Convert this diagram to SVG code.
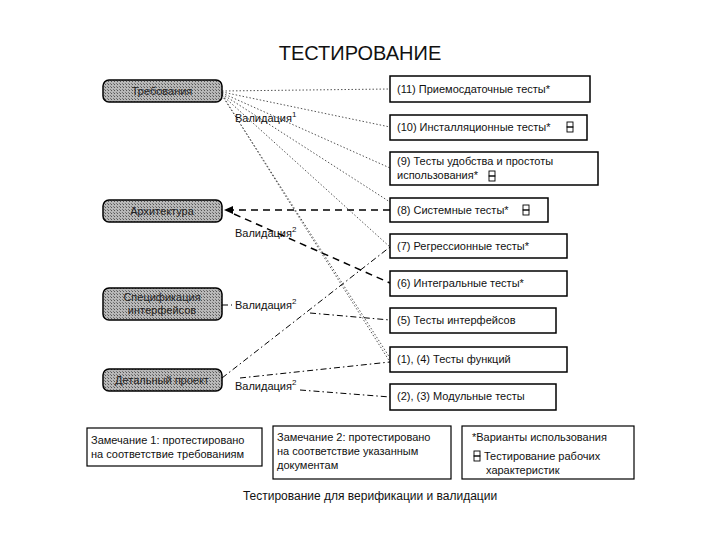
<svg xmlns="http://www.w3.org/2000/svg" width="720" height="540" viewBox="0 0 720 540">
<defs>
<pattern id="hat" width="3" height="3" patternUnits="userSpaceOnUse"><rect width="3" height="3" fill="#b8b8b8"/><rect width="1" height="1" fill="#555"/><rect x="2" y="2" width="1" height="1" fill="#777"/></pattern>
<g id="sym"><rect x="0" y="0" width="6" height="5" fill="none" stroke="#000" stroke-width="0.9"/><rect x="0" y="5" width="6" height="5" fill="none" stroke="#000" stroke-width="0.9"/></g>
</defs>
<style>
text{font-family:"Liberation Sans",Arial,sans-serif;fill:#111}
.ln{fill:url(#hat);stroke:#000;stroke-width:1.5}
.nt{font-size:11px;text-anchor:middle;fill:#222}
.rb{fill:#fff;stroke:#000;stroke-width:1.5}
.rt{font-size:11px}
.v{font-size:11px}
.dot{stroke:#555;stroke-width:1;stroke-dasharray:1.5 2;fill:none}
.das{stroke:#000;stroke-width:1.5;stroke-dasharray:7 5;fill:none}
.dd{stroke:#000;stroke-width:1;stroke-dasharray:6 3 1.5 3;fill:none}
.box{fill:#fff;stroke:#000;stroke-width:1.2}
</style>
<rect width="720" height="540" fill="#fff"/>
<text x="360" y="60" font-size="20" text-anchor="middle" font-weight="normal">ТЕСТИРОВАНИЕ</text>
<g id="connectors">
<path class="dot" d="M222,91 L390,89 M222,92 L390,127 M222,93 L390,168 M222,94 L390,202 M222,95 L390,247 M222,95 L390,358 M222,95 L390,362"/>
<path class="das" d="M390,210 L232,210"/>
<path d="M224,210 L233,206 L233,214 z" fill="#000"/>
<path class="das" d="M234,214 L390,283"/>
<path class="dd" d="M222,378 L390,247 M240,378 L390,362 M300,390 L390,397 M310,313 L390,320"/>
<path class="dd" d="M222,305 L232,305"/>
</g>
<g id="n-req"><rect class="ln" x="103" y="80" width="119" height="22" rx="6"/><text class="nt" x="162" y="95">Требования</text></g>
<g id="n-arch"><rect class="ln" x="103" y="200" width="119" height="22" rx="6"/><text class="nt" x="162" y="215">Архитектура</text></g>
<g id="n-spec"><rect class="ln" x="103" y="288" width="119" height="32" rx="6"/><text class="nt" x="162" y="301">Спецификация</text><text class="nt" x="162" y="314">интерфейсов</text></g>
<g id="n-det"><rect class="ln" x="103" y="369" width="119" height="22" rx="6"/><text class="nt" x="162" y="384">Детальный проект</text></g>
<g id="labels">
<text class="v" x="235" y="122">Валидация<tspan font-size="8" dy="-5">1</tspan></text>
<text class="v" x="235" y="237">Валидация<tspan font-size="8" dy="-5">2</tspan></text>
<text class="v" x="235" y="309">Валидация<tspan font-size="8" dy="-5">2</tspan></text>
<text class="v" x="235" y="390">Валидация<tspan font-size="8" dy="-5">2</tspan></text>
</g>
<g id="t11"><rect class="rb" x="390" y="76" width="200" height="26"/><text class="rt" x="397" y="93">(11) Приемосдаточные тесты*</text></g>
<g id="t10"><rect class="rb" x="390" y="115" width="197" height="25"/><text class="rt" x="397" y="131">(10) Инсталляционные тесты*</text><use href="#sym" x="567" y="122"/></g>
<g id="t9"><rect class="rb" x="390" y="152" width="208" height="33"/><text class="rt" x="397" y="165">(9) Тесты удобства и простоты</text><text class="rt" x="397" y="179">использования*</text><use href="#sym" x="489" y="171"/></g>
<g id="t8"><rect class="rb" x="390" y="198" width="158" height="24"/><text class="rt" x="397" y="214">(8) Системные тесты*</text><use href="#sym" x="523" y="205"/></g>
<g id="t7"><rect class="rb" x="390" y="234" width="177" height="24"/><text class="rt" x="397" y="250">(7) Регрессионные тесты*</text></g>
<g id="t6"><rect class="rb" x="390" y="271" width="177" height="25"/><text class="rt" x="397" y="287">(6) Интегральные тесты*</text></g>
<g id="t5"><rect class="rb" x="390" y="308" width="166" height="25"/><text class="rt" x="397" y="324">(5) Тесты интерфейсов</text></g>
<g id="t14"><rect class="rb" x="390" y="347" width="177" height="25"/><text class="rt" x="397" y="363">(1), (4) Тесты функций</text></g>
<g id="t23"><rect class="rb" x="390" y="384" width="166" height="26"/><text class="rt" x="397" y="400">(2), (3) Модульные тесты</text></g>
<g id="note1"><rect class="box" x="87" y="428" width="175" height="38"/><text class="rt" x="91" y="444">Замечание 1: протестировано</text><text class="rt" x="91" y="458">на соответствие требованиям</text></g>
<g id="note2"><rect class="box" x="273" y="426" width="178" height="53"/><text class="rt" x="277" y="441">Замечание 2: протестировано</text><text class="rt" x="277" y="455">на соответствие указанным</text><text class="rt" x="277" y="469">документам</text></g>
<g id="note3"><rect class="box" x="462" y="426" width="172" height="53"/><text class="rt" x="472" y="441">*Варианты использования</text><use href="#sym" x="474" y="451"/><text class="rt" x="484" y="460">Тестирование рабочих</text><text class="rt" x="486" y="474">характеристик</text></g>
<text x="370" y="500" font-size="12" text-anchor="middle">Тестирование для верификации и валидации</text>
</svg>
